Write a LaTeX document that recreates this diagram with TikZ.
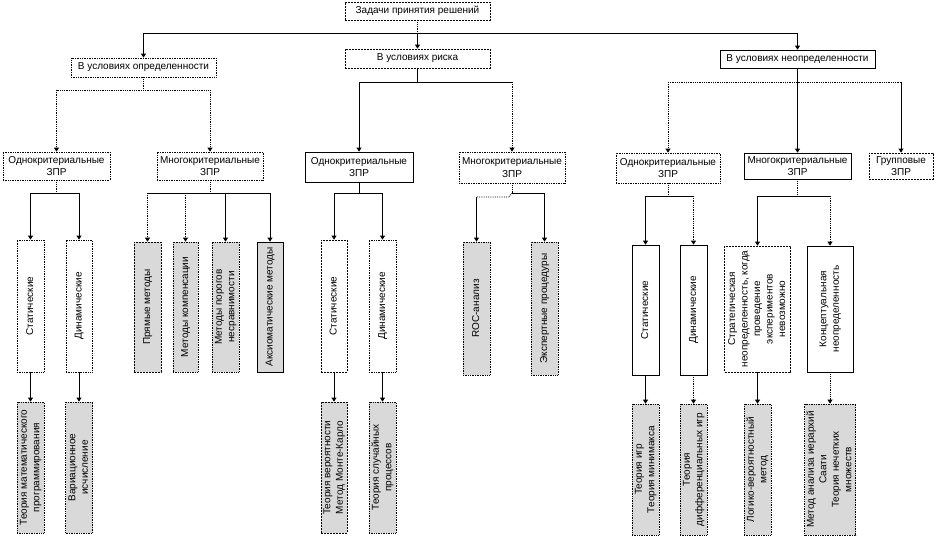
\documentclass[tikz,border=0pt]{standalone}
\usepackage{fontspec}
\setmainfont{Liberation Sans}
\usetikzlibrary{arrows.meta}
\definecolor{boxgray}{HTML}{D9D9D9}
\newcommand{\rotlbl}[1]{\rotatebox{90}{\begin{tabular}{@{}c@{}}#1\end{tabular}}}
\begin{document}
\begin{tikzpicture}[x=1pt,y=-1pt,
  font=\fontsize{10}{12.5}\selectfont,
  box/.style={draw, inner sep=0pt, align=center, line width=0.7pt},
  dotb/.style={box, densely dotted},
  dashb/.style={box, dash pattern=on 2pt off 1pt},
  solb/.style={box},
  gb/.style={fill=boxgray},
  ln/.style={line width=0.8pt},
  dl/.style={ln, densely dotted},
  arr/.style={-{Triangle[width=5pt,length=4pt]}}]
\renewcommand{\arraystretch}{1.0}
\useasboundingbox (0,0) rectangle (952,538);

% level 1-2
\node[dashb, minimum width=145, minimum height=18] (top) at (417.5,11) {Задачи принятия решений};
\node[dotb, minimum width=145, minimum height=19] (opr) at (143.5,67.5) {В условиях определенности};
\node[dashb, minimum width=145, minimum height=19] (risk) at (417.5,58.5) {В условиях риска};
\node[solb, minimum width=155, minimum height=18] (neopr) at (797.5,59) {В условиях неопределенности};

% level 3
\node[dotb, minimum width=107, minimum height=28] (L1) at (56.5,166) {Однокритериальные\\ЗПР};
\node[dotb, minimum width=106, minimum height=28] (L2) at (210,166) {Многокритериальные\\ЗПР};
\node[solb, minimum width=108, minimum height=30] (M1) at (359,167) {Однокритериальные\\ЗПР};
\node[dotb, minimum width=106, minimum height=31] (M2) at (512,167.5) {Многокритериальные\\ЗПР};
\node[dotb, minimum width=104, minimum height=30] (R1) at (668,168) {Однокритериальные\\ЗПР};
\node[solb, minimum width=107, minimum height=26] (R2) at (797.5,166) {Многокритериальные\\ЗПР};
\node[dashb, minimum width=64, minimum height=26] (R3) at (901,166) {Групповые\\ЗПР};

% level 4
\node[dotb, minimum width=27, minimum height=132] (LS) at (30.5,306) {\rotlbl{Статические}};
\node[dotb, minimum width=26, minimum height=132] (LD) at (79,306) {\rotlbl{Динамические}};
\node[dashb, gb, minimum width=27, minimum height=130] (P1) at (147.5,307) {\rotlbl{Прямые методы}};
\node[dotb, gb, minimum width=25, minimum height=130] (P2) at (185.5,307) {\rotlbl{Методы компенсации}};
\node[dotb, gb, minimum width=27, minimum height=130] (P3) at (225.5,307) {\rotlbl{Методы порогов\\несравнимости}};
\node[solb, gb, minimum width=26, minimum height=130] (P4) at (270,307) {\rotlbl{Аксиоматические методы}};
\node[dashb, minimum width=26, minimum height=132] (MS) at (334,306) {\rotlbl{Статические}};
\node[dotb, minimum width=27, minimum height=132] (MD) at (382.5,306) {\rotlbl{Динамические}};
\node[dotb, gb, minimum width=27, minimum height=133] (ROC) at (476.5,308.5) {\rotlbl{ROC-анализ}};
\node[dotb, gb, minimum width=27, minimum height=133] (EXP) at (544.5,308.5) {\rotlbl{Экспертные процедуры}};
\node[solb, minimum width=27, minimum height=130] (RS) at (645.5,310) {\rotlbl{Статические}};
\node[solb, minimum width=27, minimum height=130] (RD) at (693.5,310) {\rotlbl{Динамические}};
\node[dashb, minimum width=66, minimum height=126] (STR) at (757.5,309) {\rotlbl{Стратегическая\\неопределенность, когда\\проведение\\экспериментов\\невозможно}};
\node[solb, minimum width=46, minimum height=126] (KON) at (830,309) {\rotlbl{Концептуальная\\неопределенность}};

% level 5
\node[dotb, gb, minimum width=27, minimum height=131] (B1) at (30.5,467.5) {\rotlbl{Теория математического\\программирования}};
\node[dotb, gb, minimum width=27, minimum height=131] (B2) at (79,467.5) {\rotlbl{Вариационное\\исчисление}};
\node[dashb, gb, minimum width=26, minimum height=131] (B3) at (334,467.5) {\rotlbl{Теория вероятности\\Метод Монте-Карло}};
\node[dotb, gb, minimum width=27, minimum height=131] (B4) at (382.5,467.5) {\rotlbl{Теория случайных\\процессов}};
\node[dotb, gb, minimum width=27, minimum height=131] (B5) at (645.5,469.5) {\rotlbl{Теория игр\\Теория минимакса}};
\node[dotb, gb, minimum width=27, minimum height=131] (B6) at (693.5,469.5) {\rotlbl{Теория\\дифференциальных игр}};
\node[dotb, gb, minimum width=27, minimum height=131] (B7) at (757.5,469.5) {\rotlbl{Логико-вероятностный\\метод}};
\node[dotb, gb, minimum width=51, minimum height=131] (B8) at (830,469.5) {\rotlbl{Метод анализа иерархий\\Саати\\Теория нечетких\\множеств}};

% connectors: top
\draw[dl] (top.south) -- (top.south |- 0,33);
\draw[ln] (opr.north |- 0,33) -- (neopr.north |- 0,33);
\draw[ln,arr] (opr.north |- 0,33) -- (opr.north);
\draw[ln,arr] (top.south |- 0,33) -- (risk.north);
\draw[ln,arr] (neopr.north |- 0,33) -- (neopr.north);

% opr
\draw[dl] (opr.south) -- (opr.south |- 0,90);
\draw[dl] (L1.north |- 0,90) -- (L2.north |- 0,90);
\draw[dl,arr] (L1.north |- 0,90) -- (L1.north);
\draw[dl,arr] (L2.north |- 0,90) -- (L2.north);

% risk
\draw[ln] (risk.south) -- (risk.south |- 0,82);
\draw[ln] (M1.north |- 0,82) -- (M2.north |- 0,82);
\draw[ln,arr] (M1.north |- 0,82) -- (M1.north);
\draw[dl,arr] (M2.north |- 0,82) -- (M2.north);

% neopr
\draw[ln,arr] (neopr.south) -- (R2.north);
\draw[dl] (R1.north |- 0,82) -- (R3.north |- 0,82);
\draw[dl,arr] (R1.north |- 0,82) -- (R1.north);
\draw[ln,arr] (R3.north |- 0,82) -- (R3.north);

% L1
\draw[dl] (L1.south) -- (L1.south |- 0,193);
\draw[ln] (LS.north |- 0,193) -- (LD.north |- 0,193);
\draw[ln,arr] (LS.north |- 0,193) -- (LS.north);
\draw[ln,arr] (LD.north |- 0,193) -- (LD.north);

% L2
\draw[dl] (L2.south) -- (L2.south |- 0,193);
\draw[ln] (P1.north |- 0,193) -- (P4.north |- 0,193);
\draw[dl,arr] (P1.north |- 0,193) -- (P1.north);
\draw[dl,arr] (P2.north |- 0,193) -- (P2.north);
\draw[ln,arr] (P3.north |- 0,193) -- (P3.north);
\draw[ln,arr] (P4.north |- 0,193) -- (P4.north);

% M1
\draw[ln] (M1.south) -- (M1.south |- 0,193);
\draw[ln] (MS.north |- 0,193) -- (MD.north |- 0,193);
\draw[ln,arr] (MS.north |- 0,193) -- (MS.north);
\draw[ln,arr] (MD.north |- 0,193) -- (MD.north);

% M2
\coordinate (m2k) at (509,197);
\draw[dl] (M2.south) -- (M2.south |- 0,193);
\draw[ln] (M2.south |- 0,193) -- (EXP.north |- 0,193);
\draw[ln,arr] (EXP.north |- 0,193) -- (EXP.north);
\draw[dl] (M2.south |- 0,193) -- (m2k) -- (m2k -| ROC.north);
\draw[ln,arr] (m2k -| ROC.north) -- (ROC.north);

% R1
\draw[dl] (R1.south) -- (R1.south |- 0,196);
\draw[ln] (RS.north |- 0,196) -- (RD.north |- 0,196);
\draw[ln,arr] (RS.north |- 0,196) -- (RS.north);
\draw[dl,arr] (RD.north |- 0,196) -- (RD.north);

% R2
\draw[dl] (R2.south) -- (R2.south |- 0,196);
\draw[ln] (STR.north |- 0,196) -- (KON.north |- 0,196);
\draw[ln,arr] (STR.north |- 0,196) -- (STR.north);
\draw[dl,arr] (KON.north |- 0,196) -- (KON.north);

% level 4 -> 5
\draw[ln,arr] (LS.south) -- (B1.north);
\draw[ln,arr] (LD.south) -- (B2.north);
\draw[ln,arr] (MS.south) -- (B3.north);
\draw[ln,arr] (MD.south) -- (B4.north);
\draw[ln,arr] (RS.south) -- (B5.north);
\draw[dl,arr] (RD.south) -- (B6.north);
\draw[ln,arr] (STR.south) -- (B7.north);
\draw[dl,arr] (KON.south) -- (B8.north);
\end{tikzpicture}
\end{document}
